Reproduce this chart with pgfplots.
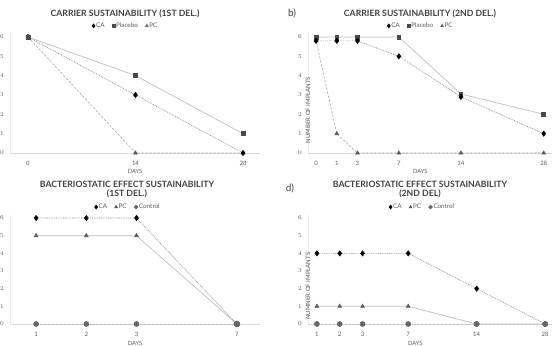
\documentclass[border=0pt]{standalone}
\usepackage{pgfplots}
\pgfplotsset{compat=1.18}
\usepackage{fontspec}
\setmainfont{Lato}
\definecolor{txt}{HTML}{404040}
\definecolor{tickc}{HTML}{595959}
\definecolor{axl}{HTML}{D9D9D9}
\definecolor{yaxl}{HTML}{EBEBEB}
\definecolor{l1}{HTML}{8C8C8C}
\definecolor{l2}{HTML}{BFBFBF}
\definecolor{l3}{HTML}{A6A6A6}
\definecolor{sqc}{HTML}{4A4A4A}
\definecolor{tric}{HTML}{5A5A5A}
\definecolor{circc}{HTML}{666666}
\pgfplotsset{
  panel/.style={
    scale only axis, anchor=south west,
    axis x line*=bottom, axis y line*=left,
    x axis line style={draw=axl, line width=0.8pt},
    y axis line style={draw=yaxl, line width=0.6pt},
    tick style={draw=none},
    ymin=0, ymax=6.2, ytick={0,1,2,3,4,5,6},
    xtick=data,
    ticklabel style={font=\fontsize{6}{7}\selectfont, text=tickc},
    yticklabel style={anchor=center, xshift=-8pt},
    xticklabel style={anchor=center, yshift=-10pt},
    xlabel={DAYS},
    xlabel style={font=\fontsize{5.8}{6}\selectfont, text=tickc, anchor=center},
    ylabel style={font=\fontsize{6}{7}\selectfont, text=tickc, anchor=center, rotate=0},
    legend style={draw=none, fill=none, font=\fontsize{6.3}{7}\selectfont, text=tickc,
      legend columns=-1, anchor=center, inner sep=0pt,
      nodes={inner sep=0.6pt},
      /tikz/every odd column/.append style={column sep=0.5pt},
      /tikz/every even column/.append style={column sep=7pt}},
    legend image code/.code={\draw[##1, every mark/.append style={scale=0.75}] plot[only marks] coordinates {(0.03cm,0cm)};},
    clip=false,
  },
  sA/.style={color=l1, line width=0.6pt, dash pattern=on 0.9pt off 0.9pt,
    mark=diamond*, mark size=2.6pt, mark options={solid, fill=black, draw=black}},
  sB/.style={color=l2, line width=0.7pt, solid,
    mark=square*, mark size=1.9pt, mark options={solid, fill=sqc, draw=sqc}},
  sC/.style={color=l3, line width=0.6pt, dash pattern=on 2.5pt off 1.5pt,
    mark=triangle*, mark size=2.1pt, mark options={solid, fill=tric, draw=tric}},
  sT/.style={color=l2, line width=0.7pt, solid,
    mark=triangle*, mark size=2.1pt, mark options={solid, fill=tric, draw=tric}},
  sD/.style={color=l2, line width=0.6pt, dash pattern=on 2.5pt off 1.5pt,
    mark=*, mark size=2.5pt, mark options={solid, fill=circc, draw=circc}},
}
\newcommand{\ttl}{\bfseries\fontsize{8.7}{9}\selectfont}
\begin{document}
\begin{tikzpicture}
\useasboundingbox (0pt,0pt) rectangle (553pt,345pt);
\clip (0pt,0pt) rectangle (553pt,345pt);

% ---------- panel a ----------
\node[font=\fontsize{10}{11}\selectfont, text=txt, anchor=east] at (4pt,332pt) {a)};
\node[font=\ttl, text=txt] at (125pt,331pt) {CARRIER SUSTAINABILITY (1ST DEL.)};
\begin{axis}[panel, at={(10pt,192pt)}, width=250pt, height=119.9pt,
  xmin=-0.167, xmax=2.158, xticklabels={0,14,28},
  xlabel style={at={(axis description cs:0.5,0)}, yshift=-18pt},
  legend style={at={(axis description cs:0.46,1.06)}}]
\addlegendimage{sA}\addlegendentry{CA}
\addlegendimage{sB}\addlegendentry{Placebo}
\addlegendimage{sC}\addlegendentry{PC}
\addplot[sC, forget plot] coordinates {(0,6) (1,0) (2,0)};
\addplot[sA, forget plot] coordinates {(0,6) (1,3) (2,0)};
\addplot[sB, forget plot] coordinates {(0,6) (1,4) (2,1)};
\end{axis}

% ---------- panel b ----------
\node[font=\fontsize{10}{11}\selectfont, text=txt] at (292pt,332pt) {b)};
\node[font=\ttl, text=txt] at (420pt,331pt) {CARRIER SUSTAINABILITY (2ND DEL.)};
\begin{axis}[panel, at={(308pt,192pt)}, width=244pt, height=119.9pt,
  xmin=-0.39, xmax=11.4, xticklabels={0,1,3,7,14,28},
  xlabel style={at={(axis description cs:0.46,0)}, yshift=-18pt},
  ylabel={NUMBER OF IMPLANTS},
  ylabel style={at={(axis description cs:0,0.5)}, xshift=-17pt, rotate=0},
  legend style={at={(axis description cs:0.46,1.06)}}]
\addlegendimage{sA}\addlegendentry{CA}
\addlegendimage{sB}\addlegendentry{Placebo}
\addlegendimage{sC}\addlegendentry{PC}
\addplot[sC, forget plot] coordinates {(0,5.8) (1,1) (2,0) (4,0) (7,0) (11,0)};
\addplot[sB, forget plot] coordinates {(0,6) (1,6) (2,6) (4,6) (7,3.05) (11,2)};
\addplot[sA, forget plot] coordinates {(0,5.8) (1,5.8) (2,5.8) (4,5) (7,2.9) (11,1)};
\end{axis}

% ---------- panel c ----------
\node[font=\fontsize{10}{11}\selectfont, text=txt, anchor=east] at (4pt,157pt) {c)};
\node[font=\ttl, text=txt] at (127pt,161pt) {BACTERIOSTATIC EFFECT SUSTAINABILITY};
\node[font=\ttl, text=txt] at (127pt,151pt) {(1ST DEL.)};
\begin{axis}[panel, at={(10pt,21pt)}, width=250pt, height=109.5pt,
  xmin=-0.52, xmax=4.46, xticklabels={1,2,3,7},
  xlabel style={at={(axis description cs:0.5,0)}, yshift=-19pt},
  legend style={at={(axis description cs:0.47,1.068)}}]
\addlegendimage{sA}\addlegendentry{CA}
\addlegendimage{sT}\addlegendentry{PC}
\addlegendimage{sD}\addlegendentry{Control}
\addplot[sD, forget plot] coordinates {(0,0) (1,0) (2,0) (4,0)};
\addplot[sT, forget plot] coordinates {(0,5) (1,5) (2,5) (4,0)};
\addplot[sA, forget plot] coordinates {(0,6) (1,6) (2,6) (4,0)};
\addplot[sD, forget plot, draw=none, mark size=3pt] coordinates {(4,0)};
\end{axis}

% ---------- panel d ----------
\node[font=\fontsize{10}{11}\selectfont, text=txt] at (290pt,157pt) {d)};
\node[font=\ttl, text=txt] at (420pt,161pt) {BACTERIOSTATIC EFFECT SUSTAINABILITY};
\node[font=\ttl, text=txt] at (420pt,151pt) {(2ND DEL)};
\begin{axis}[panel, at={(308pt,21pt)}, width=244pt, height=109.5pt,
  xmin=-0.39, xmax=10.3, xticklabels={1,2,3,7,14,28},
  xlabel style={at={(axis description cs:0.44,0)}, yshift=-19pt},
  ylabel={NUMNER OF IMPLANTS},
  ylabel style={at={(axis description cs:0,0.5)}, xshift=-17pt, rotate=0},
  legend style={at={(axis description cs:0.467,1.068)}}]
\addlegendimage{sA}\addlegendentry{CA}
\addlegendimage{sT}\addlegendentry{PC}
\addlegendimage{sD}\addlegendentry{Control}
\addplot[sD, forget plot] coordinates {(0,0) (1,0) (2,0) (4,0) (7,0) (10,0)};
\addplot[sT, forget plot] coordinates {(0,1) (1,1) (2,1) (4,1) (7,0) (10,0)};
\addplot[sA, forget plot] coordinates {(0,4) (1,4) (2,4) (4,4) (7,2) (10,0)};
\addplot[sD, forget plot, draw=none] coordinates {(7,0) (10,0)};
\end{axis}
\end{tikzpicture}
\end{document}
